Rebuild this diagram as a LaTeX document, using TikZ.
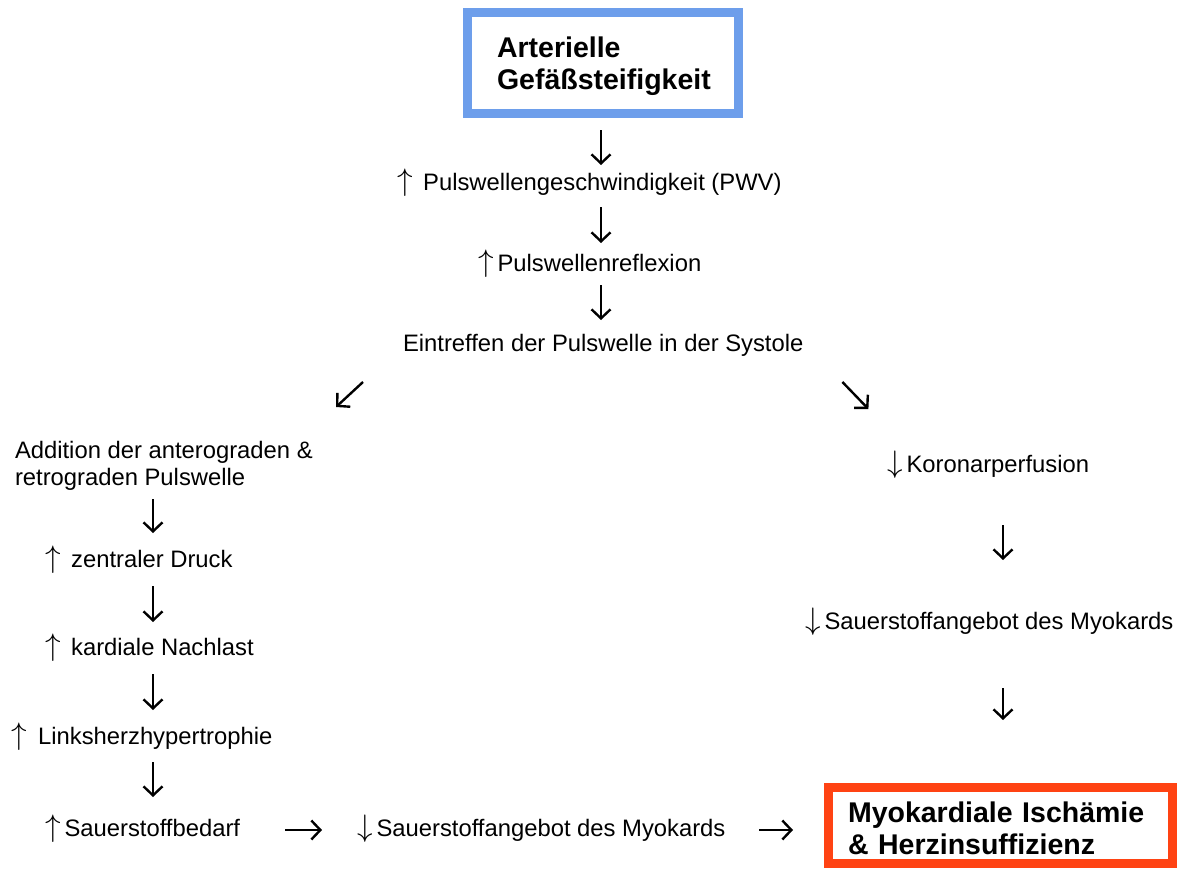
\documentclass[tikz,border=0pt]{standalone}
\usepackage{graphicx}
\usepackage{fontspec}
\setmainfont{Liberation Sans}
\usetikzlibrary{arrows.meta,calc}
\definecolor{boxblue}{RGB}{109,158,235}
\definecolor{boxred}{RGB}{255,67,19}
\newcommand\uarr{\scalebox{1.25}{$\uparrow$}\hspace{4pt}}
\newcommand\darr{\scalebox{1.25}{$\downarrow$}\hspace{4pt}}
\begin{document}
\begin{tikzpicture}[x=1pt,y=-1pt,
  txt/.style={inner sep=0pt, outer sep=0pt, anchor=base west, text height=17pt, text depth=5pt,
              font=\fontsize{23.8}{27}\selectfont},
  multi/.style={inner sep=0pt, outer sep=0pt, anchor=north west, align=left,
              font=\fontsize{23.8}{27}\selectfont},
  titlebox/.style={line width=9pt, align=left, font=\fontsize{28.5}{31.5}\selectfont\bfseries,
              inner ysep=0pt},
  conn/.style={line width=2.4pt, -{Straight Barb[length=9pt,width=19pt]}}]
\useasboundingbox (0,0) rectangle (1183,870);

% boxes
\node[titlebox, draw=boxblue, text width=212pt, inner xsep=29.5pt,
      minimum width=271pt, minimum height=101pt] (top) at (603,63)
      {\rule{0pt}{27pt}Arterielle\\Gefäßsteifigkeit};
\node[titlebox, draw=boxred, text width=305pt, inner xsep=19.5pt,
      minimum width=344pt, minimum height=76pt] (isch) at (1000.5,825.5)
      {\rule{0pt}{26pt}Myokardiale Ischämie\\\& Herzinsuffizienz};

% central column
\node[txt] (pwv)   at (397,190) {\uarr\ Pulswellengeschwindigkeit (PWV)};
\node[txt] (refl)  at (478,271) {\uarr Pulswellenreflexion};
\node[txt] (eintr) at (403,351) {Eintreffen der Pulswelle in der Systole};

% left column
\node[multi] (add) at (15,441) {Addition der anterograden \&\\retrograden Pulswelle};
\node[txt] (zen)   at (45,567) {\uarr\ zentraler Druck};
\node[txt] (nach)  at (45,655) {\uarr\ kardiale Nachlast};
\node[txt] (links) at (12,744) {\uarr\ Linksherzhypertrophie};
\node[txt] (sbed)  at (45,836) {\uarr Sauerstoffbedarf};
\node[txt] (sang)  at (357,836) {\darr Sauerstoffangebot des Myokards};

% right column
\node[txt] (koro)  at (887,472) {\darr Koronarperfusion};
\node[txt] (sang2) at (805,629) {\darr Sauerstoffangebot des Myokards};

% connectors
\draw[conn, shorten <=12pt, shorten >=8pt]
  ([xshift=-2pt]top.south) -- ([xshift=-2pt]top.south |- pwv.north);
\draw[conn, shorten <=12pt, shorten >=11pt]
  ([xshift=204pt]pwv.south west) -- ([xshift=204pt]pwv.south west |- refl.north);
\draw[conn, shorten <=9pt, shorten >=14pt]
  ([xshift=123pt]refl.south west) -- ([xshift=123pt]refl.south west |- eintr.north);

\draw[conn] (eintr.south west) ++(-40,26) -- ++(-27,25);
\draw[conn] (eintr.south east) ++(39,26) -- ++(26,27);

\draw[conn, shorten <=9pt, shorten >=17pt]
  ([xshift=108pt]zen.north west |- add.south) -- ([xshift=108pt]zen.north west);
\draw[conn, shorten <=14pt, shorten >=16pt]
  ([xshift=108pt]zen.south west) -- ([xshift=108pt]zen.south west |- nach.north);
\draw[conn, shorten <=14pt, shorten >=17pt]
  ([xshift=108pt]nach.south west) -- ([xshift=108pt]nach.south west |- links.north);
\draw[conn, shorten <=13pt, shorten >=22pt]
  ([xshift=141pt]links.south west) -- ([xshift=141pt]links.south west |- sbed.north);

\draw[conn, shorten <=45pt, shorten >=35pt] (sbed.east) -- (sbed.east -| sang.west);
\draw[conn, shorten <=34pt, shorten >=31pt] (sang.east) -- (sang.east -| isch.west);

\draw[conn, shorten <=48pt, shorten >=52pt]
  ([xshift=116pt]koro.south west) -- ([xshift=116pt]koro.south west |- sang2.north);
\draw[conn, shorten <=54pt, shorten >=63pt]
  ([xshift=198pt]sang2.south west) -- ([xshift=198pt]sang2.south west |- isch.north);
\end{tikzpicture}
\end{document}
